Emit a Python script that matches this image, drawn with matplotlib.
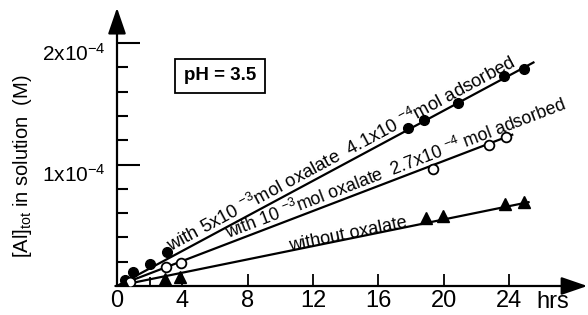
import numpy as np
import matplotlib
matplotlib.use('Agg')
import matplotlib.pyplot as plt
import matplotlib.transforms as mtransforms

plt.rcParams['font.family'] = ['Liberation Sans', 'DejaVu Sans']
plt.rcParams['mathtext.fontset'] = 'custom'
plt.rcParams['mathtext.rm'] = 'Liberation Sans'
plt.rcParams['mathtext.it'] = 'Liberation Sans:italic'
plt.rcParams['mathtext.bf'] = 'Liberation Sans:bold'

# -----------------------------
# data (time in hrs, [Al]tot in M)
t_5ox = [0.5, 1.0, 2.0, 3.05, 17.8, 18.8, 20.9, 23.7, 24.9]
al_5ox = [0.05e-4, 0.115e-4, 0.18e-4, 0.28e-4, 1.30e-4, 1.37e-4, 1.51e-4, 1.73e-4, 1.79e-4]

t_1ox = [0.8, 3.0, 3.9, 19.35, 22.8, 23.8]
al_1ox = [0.03e-4, 0.16e-4, 0.19e-4, 0.96e-4, 1.16e-4, 1.23e-4]

t_0ox = [0.4, 2.95, 3.85, 18.9, 19.95, 23.75, 24.9]
al_0ox = [0.02e-4, 0.06e-4, 0.07e-4, 0.56e-4, 0.575e-4, 0.675e-4, 0.69e-4]

# fitted straight lines: (start, end) points
fit_5ox_x = [0, 25.5]
fit_5ox_y = [0, 1.84e-4]
fit_1ox_x = [0, 24.2]
fit_1ox_y = [0, 1.245e-4]
fit_0ox_x = [0, 25.2]
fit_0ox_y = [0, 0.69e-4]

labels = ['with 5x10 $^{\\mathregular{-3}}$mol oxalate  4.1x10 $^{\\mathregular{-4}}$mol adsorbed',
          'with 10 $^{\\mathregular{-3}}$mol oxalate  2.7x10 $^{\\mathregular{-4}}$ mol adsorbed',
          'without oxalate']
label_start = [3.4, 6.9, 10.6]

xticks = [4, 8, 12, 16, 20, 24]
yticks = [1e-4, 2e-4]
ytick_labels = ['1x10$^{\\mathregular{-4}}$', '2x10$^{\\mathregular{-4}}$']

# -----------------------------
fig = plt.figure(figsize=(5.88, 3.15), dpi=100)
ax = fig.add_axes([117 / 588, 29 / 315, 471 / 588, 281 / 315])
ax.set_xlim(0, 28.84)
ax.set_ylim(0, 2.313e-4)
for s in ax.spines.values():
    s.set_visible(False)

# axes drawn as arrows
arrow = dict(arrowstyle='-|>,head_length=1.6,head_width=0.55', lw=1.6, color='k',
             shrinkA=0, shrinkB=0, mutation_scale=10)
ax.annotate('', xy=(0, 2.29e-4), xytext=(0, 0), arrowprops=arrow)
ax.annotate('', xy=(28.8, 0), xytext=(-0.1, 0), arrowprops=arrow)

# ticks
ax.set_xticks([0] + xticks)
ax.set_xticklabels(['0'] + [str(v) for v in xticks])
ax.set_xticks([2], minor=True)
ax.set_yticks(yticks)
ax.set_yticklabels(ytick_labels)
ax.set_yticks(np.arange(0.2e-4, 2.0e-4, 0.2e-4), minor=True)
ax.tick_params(axis='x', which='major', direction='in', length=9, width=1.3, pad=3, labelsize=17)
ax.tick_params(axis='x', which='minor', direction='in', length=6.5, width=1.3)
ax.tick_params(axis='y', which='major', direction='in', length=16.5, width=1.5, pad=8, labelsize=15)
ax.tick_params(axis='y', which='minor', direction='in', length=8, width=1.5)
shift = mtransforms.ScaledTranslation(0, -6 / 72, fig.dpi_scale_trans)
for lab in ax.get_yticklabels():
    lab.set_transform(lab.get_transform() + shift)

# lines and points
ax.plot(fit_5ox_x, fit_5ox_y, color='k', lw=1.6)
ax.plot(fit_1ox_x, fit_1ox_y, color='k', lw=1.6)
ax.plot(fit_0ox_x, fit_0ox_y, color='k', lw=1.6)
ax.plot(t_5ox, al_5ox, 'o', color='k', ms=7, zorder=3)
ax.plot(t_1ox, al_1ox, 'o', mfc='white', mec='k', mew=1.3, ms=7, zorder=3)
ax.plot(t_0ox, al_0ox, '^', color='k', ms=8, zorder=3)

# labels along the lines
fits = [(fit_5ox_x, fit_5ox_y), (fit_1ox_x, fit_1ox_y), (fit_0ox_x, fit_0ox_y)]
for (fx, fy), lab, x0, va, fs in zip(fits, labels, label_start,
                                     ['bottom', 'bottom', 'baseline'], [13.3, 12.8, 13]):
    p0 = ax.transData.transform((fx[0], fy[0]))
    p1 = ax.transData.transform((fx[1], fy[1]))
    ang = np.degrees(np.arctan2(p1[1] - p0[1], p1[0] - p0[0]))
    y0 = fy[1] / fx[1] * x0
    ax.text(x0, y0, lab, rotation=ang, rotation_mode='anchor', ha='left', va=va, fontsize=fs)

fig.text(553 / 588, (315 - 302) / 315, 'hrs', ha='center', va='center', fontsize=17)
fig.text(23 / 588, (315 - 166) / 315, '[Al]$_{\\mathregular{tot}}$ in solution  (M)',
         rotation=90, ha='center', va='center', fontsize=14.5)
fig.text(220 / 588, (315 - 76) / 315, 'pH = 3.5', ha='center', va='center',
         fontsize=13.5, fontweight='bold',
         bbox=dict(boxstyle='square,pad=0.45', fc='white', ec='k', lw=1.3))

fig.savefig('out.png', dpi=100)
